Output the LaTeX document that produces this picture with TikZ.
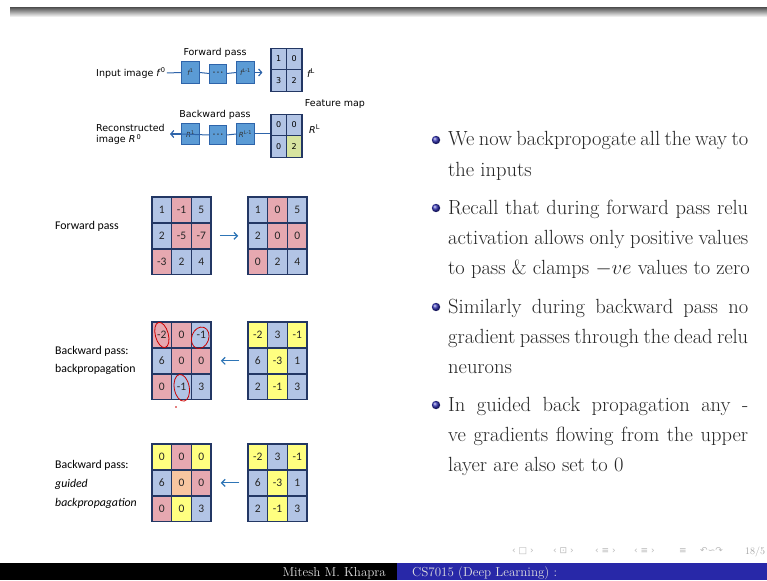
\documentclass[tikz,border=0pt]{standalone}
\usepackage{fontspec}
\usetikzlibrary{arrows.meta}
\newfontfamily\diafont{DejaVu Sans}
\newfontfamily\calfont{Carlito}
\newfontfamily\symfont{DejaVu Sans}

\definecolor{boxblue}{RGB}{91,155,213}
\definecolor{boxedge}{RGB}{46,100,170}
\definecolor{gridedge}{RGB}{35,55,100}
\definecolor{cellb}{RGB}{178,196,229}
\definecolor{cellp}{RGB}{230,168,176}
\definecolor{celly}{RGB}{255,255,128}
\definecolor{cello}{RGB}{248,198,160}
\definecolor{cellg}{RGB}{215,228,160}
\definecolor{flowblue}{RGB}{46,117,182}
\definecolor{beamerblue}{rgb}{0.2,0.2,0.7}
\definecolor{footblue}{RGB}{40,40,168}

\tikzset{
  layerbox/.style={draw=boxedge, line width=0.8pt, fill=boxblue, inner sep=0pt,
    minimum width=18pt, minimum height=21.5pt, font=\diafont\fontsize{7}{7}\selectfont, text=black!80},
  smallcell/.style={draw=gridedge, line width=1.2pt, inner sep=0pt,
    minimum width=15.5pt, minimum height=21.5pt, font=\diafont\fontsize{8}{8}\selectfont},
  cell/.style={draw=gridedge, line width=1.5pt, inner sep=0pt,
    minimum width=19.7pt, minimum height=25.9pt, font=\calfont\fontsize{11.5}{11.5}\selectfont, text=black!85},
  dialabel/.style={font=\diafont\fontsize{9.5}{11.5}\selectfont, inner sep=1pt, align=left},
  sidelabel/.style={font=\calfont\fontsize{11.8}{18}\selectfont, anchor=west, inner sep=0pt, align=left},
  link/.style={draw=boxedge, line width=1pt},
  chev/.style={draw=boxedge, line width=1.2pt, -{Straight Barb[length=3pt,width=7pt]}},
  flow/.style={draw=flowblue, line width=1.2pt, -{Straight Barb[length=3.5pt,width=7pt]}},
  txt/.style={anchor=base west, inner sep=0pt, font=\fontsize{20.5}{24}\selectfont, text=black!85},
  navsym/.style={anchor=base west, inner sep=0pt, text=gray!55, font=\symfont\fontsize{9}{9}\selectfont},
  foot/.style={inner sep=0pt, text=gray!25, font=\fontsize{13}{13}\selectfont},
  ring/.style={draw=red!80!black, line width=0.8pt}
}

% 3x3 grid of value cells: name, left x, top y, list of row/col/value/colour
\newcommand\valgrid[4]{%
  \foreach \r/\c/\v/\f in {#4}{%
    \node[cell, fill=cell\f] (#1-\r-\c) at ({#2+(\c-0.5)*19.7},{#3+(\r-0.5)*25.9}) {\v};
  }%
}
\newcommand\threedots{{\fontsize{5}{5}\selectfont\textbullet\,\textbullet\,\textbullet}}

\begin{document}
\begin{tikzpicture}[x=1pt,y=-1pt]
\useasboundingbox (0,0) rectangle (767,580);
\fill[white] (0,0) rectangle (767,580);

% frame top edge
\shade[top color={rgb,255:red,95;green,95;blue,95}, bottom color=white] (10,8) rectangle (767,17);

% ---------- forward chain ----------
\node[dialabel, anchor=west] (inlab) at (95,73) {Input image {\itshape f}\textsuperscript{\,0}};
\node[layerbox] (f1) at (190.5,72.5) {{\itshape f}\textsuperscript{1}};
\node[layerbox, minimum width=17pt, minimum height=19pt] (fdots) at (218,73.5) {\threedots};
\node[layerbox] (fL) at (245.5,72.5) {{\itshape f}\textsuperscript{L-1}};
\node[dialabel] (fwdlab) at (215,53) {Forward pass};

\node[smallcell, fill=cellb] (ta-1-1) at (278.75,59) {1};
\node[smallcell, fill=cellb] (ta-1-2) at (294.25,59) {0};
\node[smallcell, fill=cellb] (ta-2-1) at (278.75,80.5) {3};
\node[smallcell, fill=cellb] (ta-2-2) at (294.25,80.5) {2};
\node[dialabel, anchor=west] (fLlab) at (306,73) {{\itshape f}\textsuperscript{L}};

\draw[link] (inlab.east) -- (f1.west);
\draw[link] (f1.east) -- (fdots.west);
\draw[link] (fdots.east) -- (fL.west);
\draw[chev, shorten >=8pt] (fL.east) -- (ta-1-1.south west |- fL.east);

\node[dialabel] (featlab) at (335,104) {Feature map};

% ---------- backward chain ----------
\node[dialabel] (bwdlab) at (215,115) {Backward pass};
\node[dialabel, anchor=west] (reclab) at (95,134.5) {Reconstructed\\image {\itshape R}\textsuperscript{\,0}};
\node[layerbox] (r1) at (190.5,134) {{\itshape R}\textsuperscript{1}};
\node[layerbox, minimum width=17pt, minimum height=19pt] (rdots) at (218,135) {\threedots};
\node[layerbox] (rL) at (245.5,134) {{\itshape R}\textsuperscript{L-1}};

\node[smallcell, fill=cellb] (tb-1-1) at (278.75,125) {0};
\node[smallcell, fill=cellb] (tb-1-2) at (294.25,125) {0};
\node[smallcell, fill=cellb] (tb-2-1) at (278.75,146.5) {0};
\node[smallcell, fill=cellg] (tb-2-2) at (294.25,146.5) {2};
\node[dialabel, anchor=west] (RLlab) at (308,129) {{\itshape R}\textsuperscript{L}};

\coordinate (rend) at (170,134);
\draw[link] (tb-1-1.south west |- rL.east) -- (rL.east);
\draw[link] (rL.west) -- (rdots.east);
\draw[link] (rdots.west) -- (r1.west);
\draw[chev] (r1.west) -- (rend);

% ---------- forward pass grids ----------
\node[sidelabel] (lab1) at (55,226) {Forward pass};
\valgrid{fa}{152}{197}{1/1/1/b,1/2/-1/p,1/3/5/b,2/1/2/b,2/2/-5/p,2/3/-7/p,3/1/-3/p,3/2/2/b,3/3/4/b}
\valgrid{fb}{248}{197}{1/1/1/b,1/2/0/p,1/3/5/b,2/1/2/b,2/2/0/p,2/3/0/p,3/1/0/p,3/2/2/b,3/3/4/b}
\draw[flow, shorten <=8pt, shorten >=9pt] (fa-2-3.east) -- (fb-2-1.west);

% ---------- backpropagation grids ----------
\node[sidelabel] (lab2) at (55,360) {Backward pass:\\backpropagation};
\valgrid{ba}{152}{322}{1/1/-2/p,1/2/0/p,1/3/-1/b,2/1/6/b,2/2/0/p,2/3/0/p,3/1/0/p,3/2/-1/b,3/3/3/b}
\valgrid{bb}{248}{322}{1/1/-2/y,1/2/3/b,1/3/-1/y,2/1/6/b,2/2/-3/y,2/3/1/b,3/1/2/b,3/2/-1/y,3/3/3/b}
\draw[flow, shorten <=8pt, shorten >=9pt] (bb-2-1.west) -- (ba-2-3.east);

% pen marks on the gradients
\draw[ring, rotate around={15:(ba-1-1)}] (ba-1-1) ellipse (6.5pt and 13pt);
\draw[ring, rotate around={-20:(ba-1-3)}] ([yshift=-3pt]ba-1-3) ellipse (8.5pt and 11pt);
\draw[ring, rotate around={10:(ba-3-2)}] ([yshift=-1pt]ba-3-2) ellipse (7.5pt and 13.5pt);
\fill[red!80!black] (176,407) circle (0.9pt);

% ---------- guided backpropagation grids ----------
\node[sidelabel, font=\calfont\fontsize{11.8}{19}\selectfont] (lab3) at (55,484) {Backward pass:\\\itshape guided\\\itshape backpropagation};
\valgrid{ga}{152}{444}{1/1/0/y,1/2/0/p,1/3/0/y,2/1/6/b,2/2/0/o,2/3/0/p,3/1/0/p,3/2/0/y,3/3/3/b}
\valgrid{gb}{248}{444}{1/1/-2/y,1/2/3/b,1/3/-1/y,2/1/6/b,2/2/-3/y,2/3/1/b,3/1/2/b,3/2/-1/y,3/3/3/b}
\draw[flow, shorten <=8pt, shorten >=9pt] (gb-2-1.west) -- (ga-2-3.east);

% ---------- bullet text ----------
\foreach \yy in {140,208,307,405}{\shade[ball color=beamerblue] (436,\yy) circle (4.2pt);}
\node[txt] (p1a) at (448,146) {\makebox[300pt][s]{We now backpropogate all the way to}};
\node[txt] (p1b) at (448,176) {the inputs};
\node[txt] (p2a) at (448,214) {\makebox[300pt][s]{Recall that during forward pass relu}};
\node[txt] (p2b) at (448,244) {\makebox[300pt][s]{activation allows only positive values}};
\node[txt] (p2c) at (448,274) {to pass \& clamps $-ve$ values to zero};
\node[txt] (p3a) at (448,313) {\makebox[300pt][s]{Similarly during backward pass no}};
\node[txt] (p3b) at (448,343) {\makebox[300pt][s]{gradient passes through the dead relu}};
\node[txt] (p3c) at (448,373) {neurons};
\node[txt] (p4a) at (448,411) {\makebox[300pt][s]{In guided back propagation any -}};
\node[txt] (p4b) at (448,441) {\makebox[300pt][s]{ve gradients flowing from the upper}};
\node[txt] (p4c) at (448,471) {layer are also set to 0};

% ---------- navigation symbols and footer ----------
\node[navsym] (nav1) at (512,553) {‹ □ ›};
\node[navsym] (nav2) at (553,553) {‹ ⊡ ›};
\node[navsym] (nav3) at (595,553) {‹ ≡ ›};
\node[navsym] (nav4) at (634,553) {‹ ≡ ›};
\node[navsym] (nav5) at (679,553) {≡};
\node[navsym] (nav6) at (700,553) {↶∽↷};
\node[anchor=base west, inner sep=0pt, text=gray!70, font=\fontsize{10}{10}\selectfont] (pg) at (745,554) {18/5};

\fill[black] (0,563) rectangle (397,580);
\fill[footblue] (397,563) rectangle (767,580);
\node[foot, anchor=base east] (auth) at (386,576) {Mitesh M. Khapra};
\node[foot, anchor=base west] (course) at (412,576) {CS7015 (Deep Learning) :};
\end{tikzpicture}
\end{document}
